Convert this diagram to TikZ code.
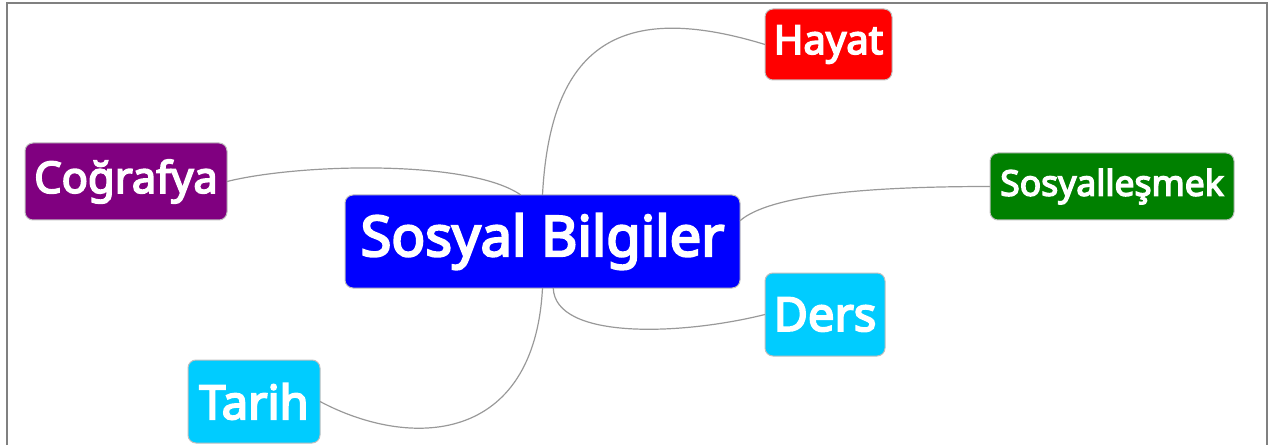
\documentclass[tikz,border=0pt]{standalone}
\usepackage{fontspec}
\setmainfont{Noto Sans}[AutoFakeBold=4]
\definecolor{kmor}{HTML}{800080}
\definecolor{kyesil}{HTML}{008000}
\definecolor{kmavi}{HTML}{00CCFF}

\begin{document}
\begin{tikzpicture}[x=1pt, y=1pt,
  every node/.style={rounded corners=8pt, draw=black!25, line width=1pt, text=white, inner sep=0pt, outer sep=0pt},
  link/.style={draw=black!40, line width=1.2pt}]
\useasboundingbox (0,0) rectangle (1269,445);
\draw[black!50, line width=2pt] (7,0) -- (7,442) -- (1267,442) -- (1267,0);

\node[fill=blue, minimum width=395pt, minimum height=93pt, font=\bfseries\fontsize{56}{64}\selectfont] (main) at (542.5,203.5) {Sosyal Bilgiler};
\node[fill=red, minimum width=127pt, minimum height=71pt, font=\bfseries\fontsize{40}{46}\selectfont] (hayat) at (828.5,400.5) {Hayat};
\node[fill=kmor, minimum width=202pt, minimum height=77pt, font=\bfseries\fontsize{43.5}{50}\selectfont] (cografya) at (126,263.5) {Coğrafya};
\node[fill=kyesil, minimum width=244pt, minimum height=67pt, font=\bfseries\fontsize{35.5}{42}\selectfont] (sosyal) at (1112,258.5) {Sosyalleşmek};
\node[fill=kmavi, minimum width=120pt, minimum height=83pt, font=\bfseries\fontsize{47}{54}\selectfont] (ders) at (825,130.5) {Ders};
\node[fill=kmavi, minimum width=132pt, minimum height=83pt, font=\bfseries\fontsize{47}{54}\selectfont] (tarih) at (254,43.5) {Tarih};

\draw[link] (main.north) to[out=87, in=163, out distance=150, in distance=152] (hayat.west);
\draw[link] (cografya.east) to[out=14, in=145, out distance=75, in distance=62] (main.115);
\draw[link] (main.6) to[out=41, in=180, out distance=38, in distance=130] (sosyal.west);
\draw[link] (main.283) to[out=-88, in=-166, out distance=52, in distance=87] (ders.west);
\draw[link] (main.south) to[out=-93, in=-28, out distance=157, in distance=102] (tarih.east);
\end{tikzpicture}
\end{document}
